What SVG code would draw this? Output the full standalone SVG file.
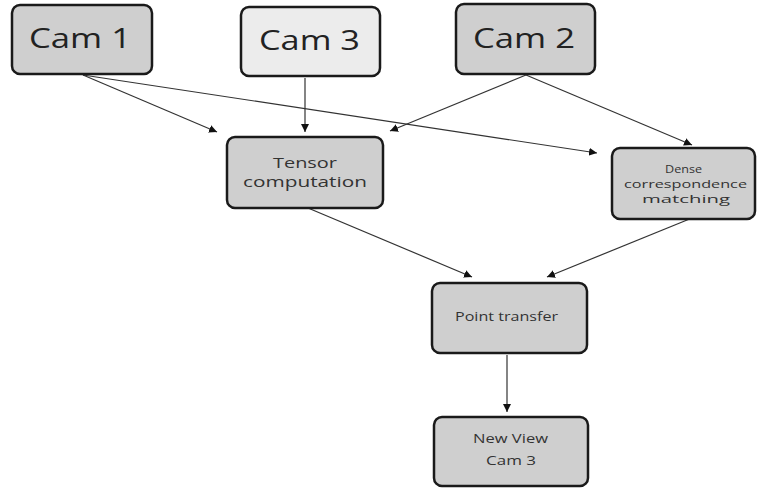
<svg xmlns="http://www.w3.org/2000/svg" width="757" height="488" viewBox="0 0 757 488">
<defs>
<marker id="ah" viewBox="0 0 10 10" refX="10" refY="5" markerWidth="8" markerHeight="8" markerUnits="userSpaceOnUse" orient="auto">
<path d="M0,0 L10,5 L0,10 z" fill="#111"/>
</marker>
</defs>
<style>
.box{fill:#cfcfcf;stroke:#1a1a1a;stroke-width:2.5}
.light{fill:#ececec}
.big{font-family:"Open Sans","Noto Sans",sans-serif;font-size:27px;fill:#222}
.sm{font-family:"Open Sans","Noto Sans",sans-serif;font-size:14px;fill:#333}
.xs{font-family:"Open Sans","Noto Sans",sans-serif;font-size:12px;fill:#333}
.dn{font-family:"Open Sans","Noto Sans",sans-serif;font-size:11px;fill:#333}
.edge{stroke:#333;stroke-width:1.2;fill:none;marker-end:url(#ah)}
</style>
<rect width="757" height="488" fill="#fff"/>
<g id="connectors">
<line class="edge" x1="83" y1="75" x2="217" y2="132"/>
<line class="edge" x1="83" y1="75" x2="597" y2="153"/>
<line class="edge" x1="305" y1="78" x2="305" y2="132"/>
<line class="edge" x1="526" y1="75" x2="390" y2="131"/>
<line class="edge" x1="526" y1="75" x2="692" y2="145"/>
<line class="edge" x1="308" y1="208" x2="472" y2="277"/>
<line class="edge" x1="692" y1="218" x2="547" y2="277"/>
<line class="edge" x1="507" y1="355" x2="507" y2="412"/>
</g>
<g id="cam1">
<rect class="box" x="12" y="5" width="140" height="69" rx="8"/>
<text class="big" x="29" y="48" textLength="102" lengthAdjust="spacingAndGlyphs">Cam 1</text>
</g>
<g id="cam3">
<rect class="box light" x="241" y="7" width="139" height="69" rx="8"/>
<text class="big" x="259" y="50" textLength="101" lengthAdjust="spacingAndGlyphs">Cam 3</text>
</g>
<g id="cam2">
<rect class="box" x="456" y="4" width="139" height="70" rx="8"/>
<text class="big" x="473" y="48" textLength="102" lengthAdjust="spacingAndGlyphs">Cam 2</text>
</g>
<g id="tensor">
<rect class="box" x="227" y="137" width="156" height="71" rx="8"/>
<text class="sm" x="273" y="168" textLength="64" lengthAdjust="spacingAndGlyphs">Tensor</text>
<text class="sm" x="243" y="187" textLength="124" lengthAdjust="spacingAndGlyphs">computation</text>
</g>
<g id="dense">
<rect class="box" x="612" y="148" width="143" height="71" rx="8"/>
<text class="dn" x="665" y="173" textLength="37" lengthAdjust="spacingAndGlyphs">Dense</text>
<text class="dn" x="624" y="188" textLength="123" lengthAdjust="spacingAndGlyphs">correspondence</text>
<text class="dn" x="642" y="203" textLength="88" lengthAdjust="spacingAndGlyphs">matching</text>
</g>
<g id="point">
<rect class="box" x="432" y="283" width="155" height="70" rx="8"/>
<text class="xs" x="455" y="321" textLength="103" lengthAdjust="spacingAndGlyphs">Point transfer</text>
</g>
<g id="newview">
<rect class="box" x="434" y="417" width="154" height="69" rx="8"/>
<text class="xs" x="473" y="443" textLength="75" lengthAdjust="spacingAndGlyphs">New View</text>
<text class="xs" x="486" y="465" textLength="50" lengthAdjust="spacingAndGlyphs">Cam 3</text>
</g>
</svg>
